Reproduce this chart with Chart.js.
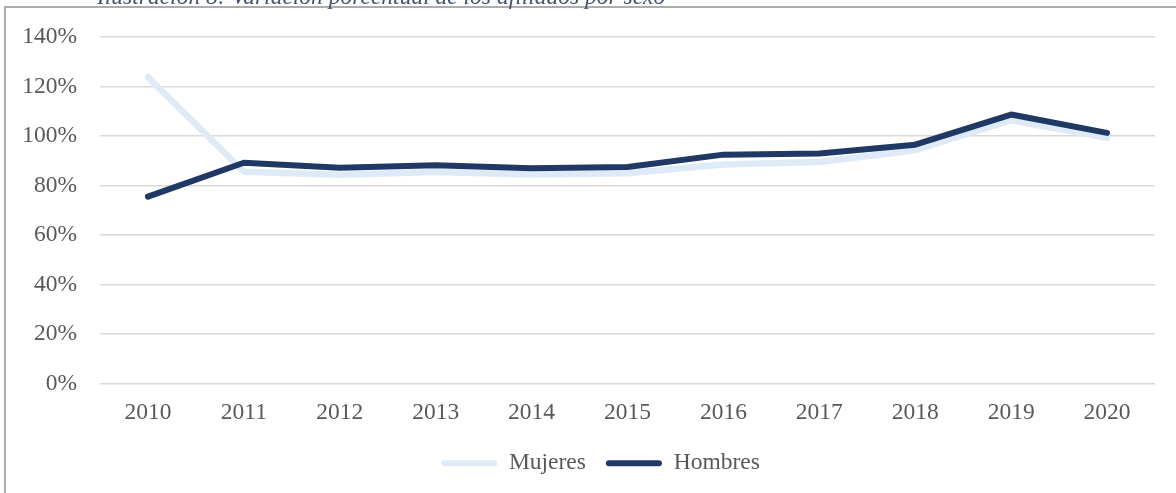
<!DOCTYPE html>
<html>
<head>
<meta charset="utf-8">
<script src="https://cdn.jsdelivr.net/npm/chart.js@4"></script>
<style>
  html, body { margin: 0; padding: 0; background: #ffffff; }
  #wrap { position: relative; width: 1176px; height: 493px; overflow: hidden; }
  canvas { display: block; }
</style>
</head>
<body>
<div id="wrap"><canvas id="c" width="1176" height="493"></canvas></div>
<script>
const titleText = 'Ilustración 8: Variación porcentual de los afiliados por sexo';
const years = ['2010','2011','2012','2013','2014','2015','2016','2017','2018','2019','2020'];
const mujeres = [123.8, 85.6, 84.4, 85.5, 84.5, 85.0, 88.5, 89.5, 94.3, 106.4, 99.3];
const hombres = [75.5, 89.2, 87.2, 88.2, 87.0, 87.5, 92.5, 93.0, 96.5, 108.7, 101.3];
const yTicks = [0, 20, 40, 60, 80, 100, 120, 140];

const FONT = '"Liberation Serif", "Times New Roman", serif';
const FS = 23.5;
const textColor = '#595959';

const framePlugin = {
  id: 'frame',
  afterLayout(chart) {
    if (chart.legend) { chart.legend.left = 46; }
  },
  beforeDraw(chart) {
    const ctx = chart.ctx;
    ctx.save();
    ctx.fillStyle = '#ffffff';
    ctx.fillRect(0, 0, chart.width, chart.height);
    ctx.fillStyle = '#ADADAD';
    ctx.fillRect(4, 6, chart.width - 4, 2);
    ctx.fillRect(4, 6, 2, chart.height - 6);
    ctx.font = 'italic ' + FS + 'px ' + FONT;
    ctx.fillStyle = '#44546A';
    ctx.textBaseline = 'alphabetic';
    ctx.textAlign = 'left';
    ctx.fillText(titleText, 97, 4);
    ctx.restore();
  }
};

new Chart(document.getElementById('c'), {
  type: 'line',
  data: {
    labels: years,
    datasets: [
      {
        label: 'Mujeres',
        data: mujeres,
        borderColor: '#DEEBF7',
        backgroundColor: '#DEEBF7',
        borderWidth: 6.5,
        borderCapStyle: 'round',
        borderJoinStyle: 'round',
        pointRadius: 0,
        tension: 0,
        order: 1
      },
      {
        label: 'Hombres',
        data: hombres,
        borderColor: '#1F3864',
        backgroundColor: '#1F3864',
        borderWidth: 6,
        borderCapStyle: 'round',
        borderJoinStyle: 'round',
        pointRadius: 0,
        tension: 0,
        order: 0
      }
    ]
  },
  options: {
    responsive: false,
    animation: false,
    devicePixelRatio: 1,
    layout: { padding: { top: 37, left: 0, right: 21, bottom: 8 } },
    plugins: {
      tooltip: { enabled: false },
      title: { display: false },
      legend: {
        position: 'bottom',
        labels: {
          font: { family: FONT, size: FS },
          color: textColor,
          boxWidth: 56,
          boxHeight: 6,
          padding: 20,
          useBorderRadius: true,
          borderRadius: 3,
          generateLabels(chart) {
            return chart.data.datasets.map((ds, i) => ({
              text: ds.label,
              fillStyle: ds.borderColor,
              strokeStyle: ds.borderColor,
              lineWidth: 0,
              fontColor: textColor,
              borderRadius: 3,
              hidden: false,
              datasetIndex: i
            }));
          }
        }
      }
    },
    scales: {
      x: {
        offset: true,
        grid: { display: false, drawTicks: false },
        border: { display: false },
        ticks: {
          font: { family: FONT, size: FS },
          color: textColor,
          padding: 15,
          maxRotation: 0,
          autoSkip: false
        },
        afterFit(scale) { scale.height = 48; }
      },
      y: {
        min: 0,
        max: 140,
        afterBuildTicks(scale) { scale.ticks = yTicks.map(v => ({ value: v })); },
        grid: { color: '#D9D9D9', lineWidth: 1.5, drawTicks: false },
        border: { display: false },
        ticks: {
          font: { family: FONT, size: FS },
          color: textColor,
          padding: 23,
          callback: (v) => v + '%'
        },
        afterFit(scale) { scale.width = 100; }
      }
    }
  },
  plugins: [framePlugin]
});
</script>
</body>
</html>
